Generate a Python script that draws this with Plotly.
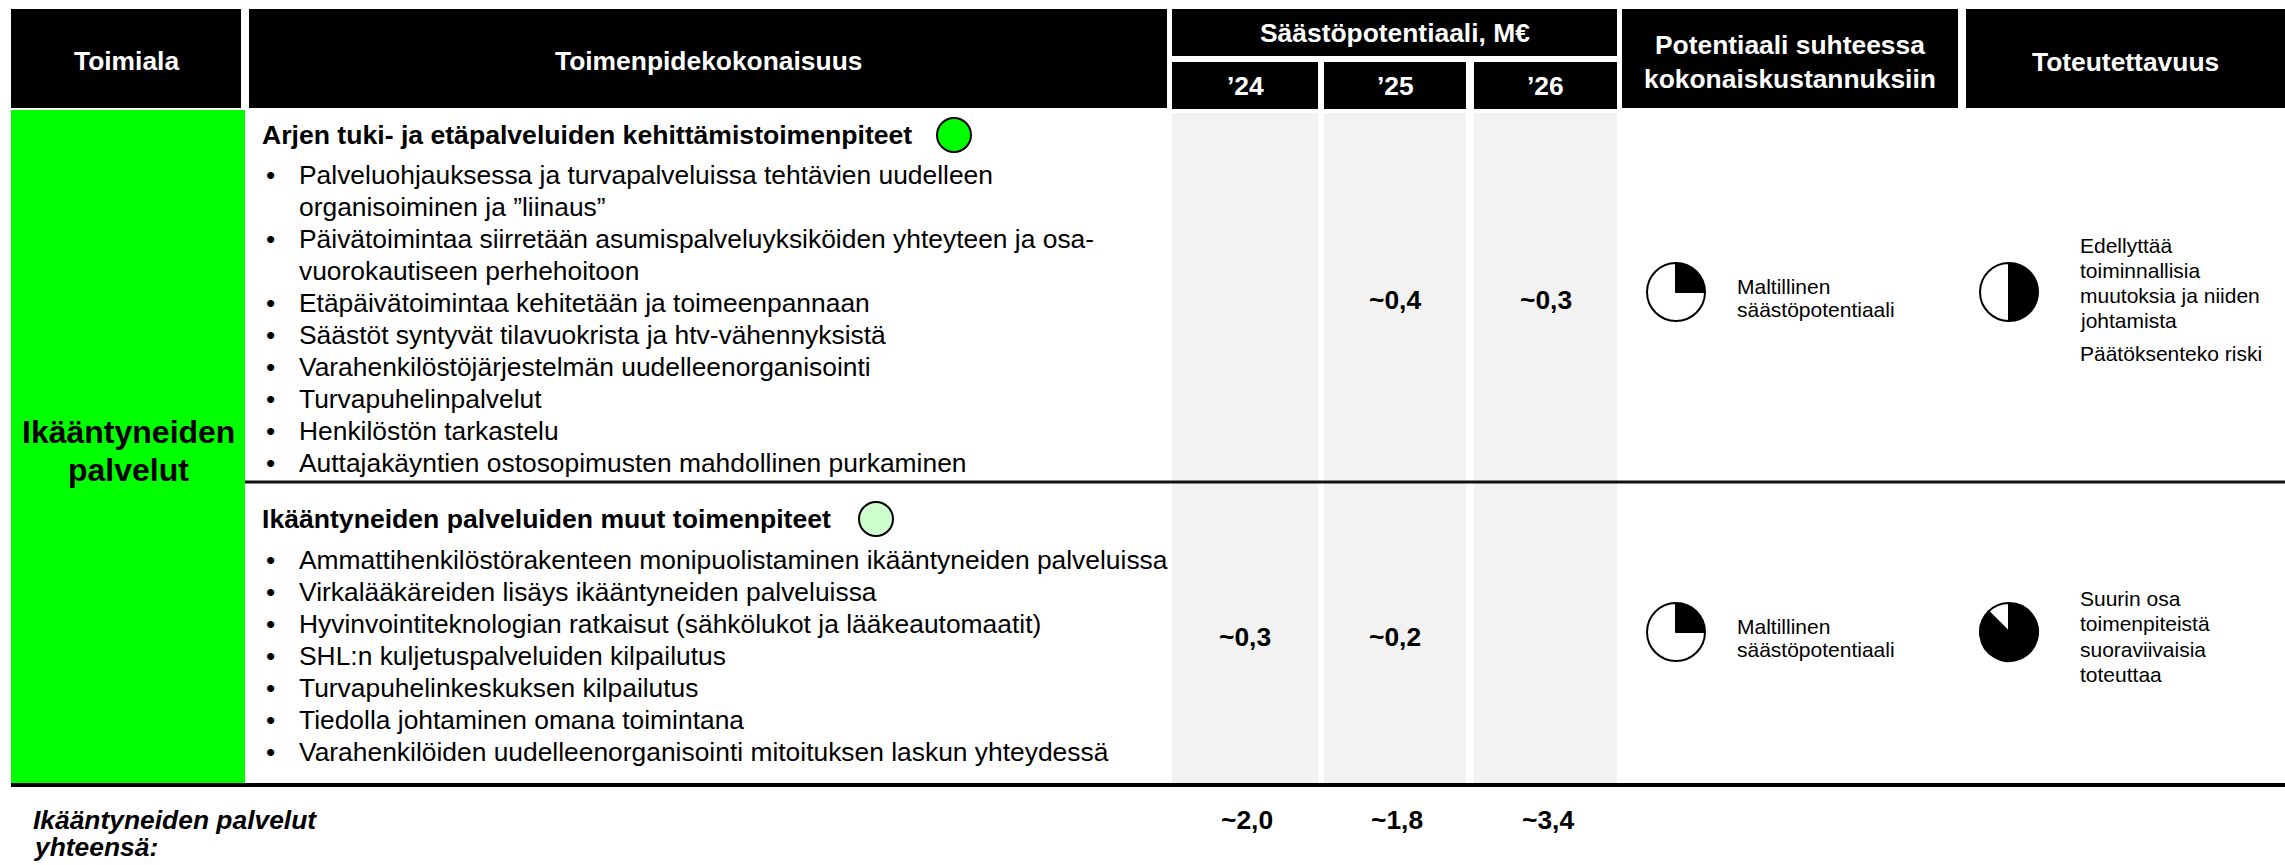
import plotly.graph_objects as go

# ---------------- data ----------------
toimiala = ["Ikääntyneiden", "palvelut"]
header_toimiala = "Toimiala"
header_toimenpide = "Toimenpidekokonaisuus"
header_saasto = "Säästöpotentiaali, M€"
years = ["’24", "’25", "’26"]
header_potentiaali = ["Potentiaali suhteessa", "kokonaiskustannuksiin"]
header_toteutettavuus = "Toteutettavuus"

group_titles = [
    "Arjen tuki- ja etäpalveluiden kehittämistoimenpiteet",
    "Ikääntyneiden palveluiden muut toimenpiteet",
]
group_bullets = [
    [
        ["Palveluohjauksessa ja turvapalveluissa tehtävien uudelleen", "organisoiminen ja ”liinaus”"],
        ["Päivätoimintaa siirretään asumispalveluyksiköiden yhteyteen ja osa-", "vuorokautiseen perhehoitoon"],
        ["Etäpäivätoimintaa kehitetään ja toimeenpannaan"],
        ["Säästöt syntyvät tilavuokrista ja htv-vähennyksistä"],
        ["Varahenkilöstöjärjestelmän uudelleenorganisointi"],
        ["Turvapuhelinpalvelut"],
        ["Henkilöstön tarkastelu"],
        ["Auttajakäyntien ostosopimusten mahdollinen purkaminen"],
    ],
    [
        ["Ammattihenkilöstörakenteen monipuolistaminen ikääntyneiden palveluissa"],
        ["Virkalääkäreiden lisäys ikääntyneiden palveluissa"],
        ["Hyvinvointiteknologian ratkaisut (sähkölukot ja lääkeautomaatit)"],
        ["SHL:n kuljetuspalveluiden kilpailutus"],
        ["Turvapuhelinkeskuksen kilpailutus"],
        ["Tiedolla johtaminen omana toimintana"],
        ["Varahenkilöiden uudelleenorganisointi mitoituksen laskun yhteydessä"],
    ],
]
savings_24 = [None, 0.3]
savings_25 = [0.4, 0.2]
savings_26 = [0.3, None]
totals = [2.0, 1.8, 3.4]
totals_label = ["Ikääntyneiden palvelut", "yhteensä:"]

potential_share = [0.25, 0.25]
potential_text = [["Maltillinen", "säästöpotentiaali"], ["Maltillinen", "säästöpotentiaali"]]
feasibility_share = [0.5, 0.875]
feasibility_text = [
    [["Edellyttää", "toiminnallisia", "muutoksia ja niiden", "johtamista"], ["Päätöksenteko riski"]],
    [["Suurin osa", "toimenpiteistä", "suoraviivaisia", "toteuttaa"]],
]

# ---------------- layout / style ----------------
W, H = 2285, 865
FONT = "Liberation Sans, Arial, sans-serif"
BLACK = "#000000"
GREEN = "#00FF00"
GRAY = "#F2F2F2"
group_colors = ["#00FF00", "#CCFFCC"]

col_toimiala = (11, 241)
col_toimenpide = (249, 1167)
col_years = [(1172, 1318), (1324, 1466), (1474, 1617)]
col_pot = (1622, 1958)
col_tot = (1966, W)
hdr_top, hdr_bot = 9, 108
sub_split_top, sub_split_bot = 56, 62
row_bounds = [(110, 482), (482, 784)]
title_y = [135, 519]
circle_x = [954, 876]
bullet_start_y = [175, 560]
line_step = 32
bullet_x, text_x, title_x = 264, 297, 260
value_y = [300, 637]
pie_y = [292, 632]
pie_pot_x, pie_tot_x = 1676, 2009
pie_r = 29
small_x_pot, small_x_tot = 1735, 2078
totals_y = 820
BODY = 26.4
TITLE = 26.6
HEAD = 26.4

fig = go.Figure()
shapes = []
ann = []


def rect(x0, x1, y0, y1, color, line=None):
    shapes.append(dict(type="rect", xref="x", yref="y", x0=x0, x1=x1, y0=y0, y1=y1,
                       fillcolor=color, line=dict(width=0) if line is None else line, layer="below"))


def text(x, y, s, size=BODY, bold=False, italic=False, color=BLACK, anchor="left"):
    t = s
    if bold:
        t = "<b>" + t + "</b>"
    if italic:
        t = "<i>" + t + "</i>"
    ann.append(dict(x=x, y=y, xref="x", yref="y", text=t, showarrow=False,
                    xanchor=anchor, yanchor="middle",
                    font=dict(family=FONT, size=size, color=color)))


# header boxes
rect(*col_toimiala, hdr_top, hdr_bot, BLACK)
rect(*col_toimenpide, hdr_top, hdr_bot, BLACK)
rect(col_years[0][0], col_years[-1][1], hdr_top, sub_split_top, BLACK)
for c in col_years:
    rect(*c, sub_split_bot, hdr_bot + 1, BLACK)
rect(*col_pot, hdr_top, hdr_bot, BLACK)
rect(*col_tot, hdr_top, hdr_bot, BLACK)

text(sum(col_toimiala) / 2, 61, header_toimiala, size=HEAD, bold=True, color="white", anchor="center")
text(sum(col_toimenpide) / 2, 61, header_toimenpide, size=HEAD, bold=True, color="white", anchor="center")
text((col_years[0][0] + col_years[-1][1]) / 2, 33, header_saasto, size=HEAD, bold=True, color="white",
     anchor="center")
for c, yl in zip(col_years, years):
    text(sum(c) / 2, 86, yl, size=HEAD, bold=True, color="white", anchor="center")
text(sum(col_pot) / 2, 45, header_potentiaali[0], size=HEAD, bold=True, color="white", anchor="center")
text(sum(col_pot) / 2, 79, header_potentiaali[1], size=HEAD, bold=True, color="white", anchor="center")
text(sum(col_tot) / 2, 62, header_toteutettavuus, size=HEAD, bold=True, color="white", anchor="center")

# gray year columns
for c in col_years:
    rect(*c, 113, row_bounds[-1][1], GRAY)

# green toimiala block
rect(col_toimiala[0], 245, 110, row_bounds[-1][1], GREEN)
text(128, 432, toimiala[0], size=32, bold=True, anchor="center")
text(128, 470, toimiala[1], size=32, bold=True, anchor="center")

# separators
shapes.append(dict(type="line", xref="x", yref="y", x0=245, x1=W, y0=row_bounds[0][1], y1=row_bounds[0][1],
                   line=dict(color="#111111", width=3)))
shapes.append(dict(type="line", xref="x", yref="y", x0=col_toimiala[0], x1=W, y0=row_bounds[1][1] + 1,
                   y1=row_bounds[1][1] + 1, line=dict(color=BLACK, width=4)))

# groups
year_savings = [savings_24, savings_25, savings_26]


def fmt(v):
    return "~" + f"{v:.1f}".replace(".", ",")


for g in range(len(group_titles)):
    text(title_x, title_y[g], group_titles[g], size=TITLE, bold=True)
    shapes.append(dict(type="circle", xref="x", yref="y", x0=circle_x[g] - 17, x1=circle_x[g] + 17,
                       y0=title_y[g] - 17, y1=title_y[g] + 17, fillcolor=group_colors[g],
                       line=dict(color=BLACK, width=2)))
    y = bullet_start_y[g]
    for item in group_bullets[g]:
        text(bullet_x, y, "•")
        for ln in item:
            text(text_x, y, ln)
            y += line_step
    for c, sv in zip(col_years, year_savings):
        if sv[g] is not None:
            text(sum(c) / 2, value_y[g], fmt(sv[g]), bold=True, anchor="center")

    # pies
    for cx, share in ((pie_pot_x, potential_share[g]), (pie_tot_x, feasibility_share[g])):
        cy = pie_y[g]
        fig.add_trace(go.Pie(
            values=[share, 1 - share], sort=False, direction="clockwise", rotation=0,
            marker=dict(colors=[BLACK, "white"], line=dict(color=BLACK, width=2)),
            textinfo="none", hoverinfo="skip", showlegend=False,
            domain=dict(x=[(cx - pie_r) / W, (cx + pie_r) / W],
                        y=[1 - (cy + pie_r) / H, 1 - (cy - pie_r) / H]),
        ))

    # small texts
    pt = potential_text[g]
    y0 = pie_y[g] + 6 - (len(pt) - 1) * 23 / 2
    for i, ln in enumerate(pt):
        text(small_x_pot, y0 + i * 23, ln, size=21)

ft_y = [[245, 270, 295, 320], [353]]
for p, (ln, yy) in enumerate(zip(feasibility_text[0], ft_y)):
    for l, y in zip(ln, yy):
        text(small_x_tot, y, l, size=21)
for i, l in enumerate(feasibility_text[1][0]):
    text(small_x_tot, 598 + i * 25.5, l, size=21)

# totals row
text(31, totals_y, totals_label[0], bold=True, italic=True)
text(31, totals_y + 27, totals_label[1], bold=True, italic=True)
for c, v in zip(col_years, totals):
    text(sum(c) / 2 + 2, totals_y, fmt(v), bold=True, anchor="center")

fig.update_layout(
    width=W, height=H, margin=dict(l=0, r=0, t=0, b=0),
    paper_bgcolor="white", plot_bgcolor="white",
    xaxis=dict(range=[0, W], visible=False, fixedrange=True),
    yaxis=dict(range=[H, 0], visible=False, fixedrange=True),
    shapes=shapes, annotations=ann, showlegend=False,
)

fig.write_html("out.html", include_plotlyjs=True, config={"displayModeBar": False, "staticPlot": True},
               post_script="document.body.style.margin='0';document.body.style.overflow='hidden';")
